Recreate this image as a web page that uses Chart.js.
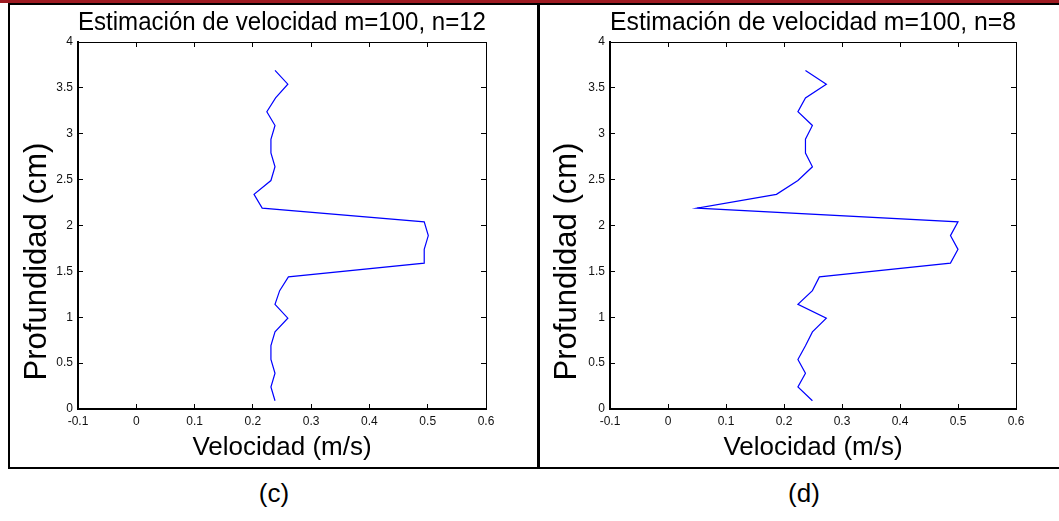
<!DOCTYPE html>
<html>
<head>
<meta charset="utf-8">
<script src="https://cdn.jsdelivr.net/npm/chart.js@4.4.1/dist/chart.umd.min.js"></script>
<style>
  html, body { margin: 0; padding: 0; background: #fff; }
  body { width: 1059px; height: 521px; position: relative; overflow: hidden; font-family: Arial, "Liberation Sans", sans-serif; }
  .bar { position: absolute; left: 0; top: 0; width: 1059px; height: 3px; background: #9e1b22; }
  .rule { position: absolute; background: #000; }
  .panel { position: absolute; top: 5px; }
  .caption { position: absolute; top: 479px; width: 100px; line-height: 28px; text-align: center; font-size: 26px; color: #000; }
</style>
</head>
<body>
<div class="bar"></div>
<div class="rule" style="left:8px; top:3px; width:1051px; height:2px"></div>
<div class="rule" style="left:8px; top:3px; width:2px; height:466px"></div>
<div class="rule" style="left:537px; top:3px; width:3px; height:466px"></div>
<div class="rule" style="left:8px; top:467px; width:1051px; height:2px"></div>
<canvas id="chart-c" class="panel" style="left:10px" width="527" height="462"></canvas>
<canvas id="chart-d" class="panel" style="left:540px" width="519" height="462"></canvas>
<div class="caption" style="left:224px">(c)</div>
<div class="caption" style="left:754px">(d)</div>

<script>
const depth = [
  0.09, 0.24, 0.39, 0.54, 0.69, 0.84, 0.99, 1.14, 1.29, 1.44, 1.59, 1.74, 1.89,
  2.04, 2.19, 2.34, 2.49, 2.64, 2.79, 2.94, 3.09, 3.24, 3.39, 3.54, 3.69
]
const velocityN12 = [
  0.238, 0.231, 0.238, 0.231, 0.231, 0.238, 0.260, 0.238, 0.246, 0.261, 0.494, 0.494, 0.501,
  0.494, 0.216, 0.202, 0.231, 0.238, 0.231, 0.231, 0.238, 0.224, 0.239, 0.260, 0.238
]
const velocityN8 = [
  0.249, 0.224, 0.237, 0.224, 0.237, 0.249, 0.273, 0.224, 0.249, 0.261, 0.487, 0.500, 0.487,
  0.500, 0.050, 0.187, 0.224, 0.249, 0.237, 0.237, 0.249, 0.224, 0.237, 0.273, 0.237
]
const velocityTicks = [-0.1, 0, 0.1, 0.2, 0.3, 0.4, 0.5, 0.6]
const depthTicks = [0, 0.5, 1, 1.5, 2, 2.5, 3, 3.5, 4]

const FONT = 'Arial, "Liberation Sans", sans-serif'

const useTicks = values => scale => {
  scale.ticks = values.map(v => ({ value: v }))
}

// rotated y label, drawn a bit below the middle of the axes
const depthLabel = {
  id: 'depthLabel',
  afterDraw(chart) {
    const { ctx, chartArea } = chart
    ctx.save()
    ctx.font = '31px ' + FONT
    ctx.fillStyle = '#000'
    ctx.textAlign = 'center'
    ctx.textBaseline = 'middle'
    ctx.translate(27, (chartArea.top + chartArea.bottom) / 2 + 36)
    ctx.rotate(-Math.PI / 2)
    ctx.fillText('Profundidad (cm)', 0, 0)
    ctx.restore()
  }
}

function boxAxis(position, values, min, max) {
  const horizontal = position === 'top'
  return {
    type: 'linear',
    position: position,
    min: min,
    max: max,
    afterBuildTicks: useTicks(values),
    afterFit: s => { if (horizontal) s.height = 0; else s.width = 0 },
    border: { color: '#000', width: 1 },
    grid: { drawOnChartArea: false, tickLength: -5, color: '#000' },
    ticks: { display: false }
  }
}

function panelConfig(titleText, velocity, yAxisWidth, rightPad) {
  return {
    type: 'scatter',
    data: {
      datasets: [{
        data: depth.map((d, i) => ({ x: velocity[i], y: d })),
        showLine: true,
        borderColor: 'rgb(0,0,255)',
        borderWidth: 1.2,
        pointRadius: 0,
        fill: false,
        tension: 0
      }]
    },
    options: {
      responsive: false,
      animation: false,
      events: [],
      layout: { padding: { left: 0, right: rightPad, top: 0, bottom: 0 } },
      plugins: {
        legend: { display: false },
        tooltip: { enabled: false },
        title: {
          display: true,
          text: titleText,
          fullSize: false,
          color: '#000',
          font: { family: FONT, size: 26, weight: 'normal' },
          padding: { top: 2, bottom: 3.8 }
        }
      },
      scales: {
        x: {
          type: 'linear',
          position: 'bottom',
          min: -0.1,
          max: 0.6,
          afterBuildTicks: useTicks(velocityTicks),
          afterFit: s => { s.height = 58 },
          border: { color: '#000', width: 2 },
          grid: { drawOnChartArea: false, tickLength: -5, color: '#000' },
          ticks: {
            padding: 10,
            color: '#111',
            maxRotation: 0,
            autoSkip: false,
            font: { family: FONT, size: 12 },
            callback: v => String(v)
          },
          title: {
            display: true,
            text: 'Velocidad (m/s)',
            color: '#000',
            font: { family: FONT, size: 26 },
            padding: { top: 0, bottom: 4 }
          }
        },
        y: {
          type: 'linear',
          position: 'left',
          min: 0,
          max: 4,
          afterBuildTicks: useTicks(depthTicks),
          afterFit: s => { s.width = yAxisWidth },
          border: { color: '#000', width: 2 },
          grid: { drawOnChartArea: false, tickLength: -5, color: '#000' },
          ticks: {
            padding: 10,
            color: '#111',
            autoSkip: false,
            font: { family: FONT, size: 12 },
            callback: v => String(v)
          }
        },
        x2: boxAxis('top', velocityTicks, -0.1, 0.6),
        y2: boxAxis('right', depthTicks, 0, 4)
      }
    },
    plugins: [depthLabel]
  }
}

const chartC = new Chart(document.getElementById('chart-c'),
  panelConfig('Estimación de velocidad m=100, n=12', velocityN12, 68, 51))
const chartD = new Chart(document.getElementById('chart-d'),
  panelConfig('Estimación de velocidad m=100, n=8', velocityN8, 70, 43))
</script>
</body>
</html>
